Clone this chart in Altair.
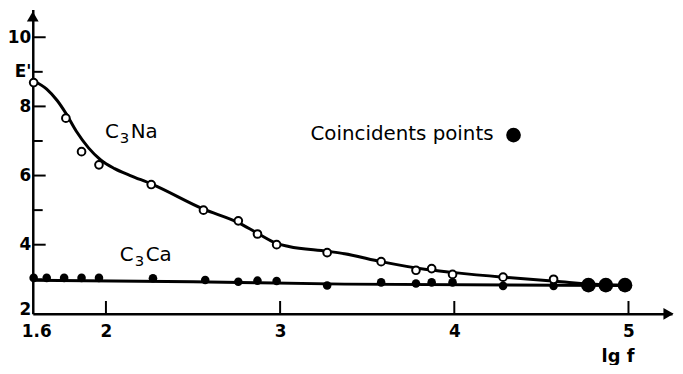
import altair as alt
import pandas as pd

# C3Na measured points (open circles)
na_x = [1.585, 1.77, 1.86, 1.96, 2.26, 2.56, 2.76, 2.87, 2.98, 3.27, 3.58, 3.78, 3.87, 3.99, 4.28, 4.57]
na_y = [8.69, 7.66, 6.69, 6.31, 5.74, 5.0, 4.69, 4.31, 4.0, 3.77, 3.51, 3.26, 3.31, 3.14, 3.06, 3.0]
# C3Na fitted curve
na_cx = [1.58, 1.66, 1.72, 1.77, 1.83, 1.9, 1.97, 2.05, 2.14, 2.26, 2.56, 2.76, 2.87, 2.98, 3.05, 3.27, 3.37, 3.58, 3.83, 3.99, 4.28, 4.58, 4.87, 4.99]
na_cy = [8.75, 8.5, 8.17, 7.8, 7.28, 6.8, 6.45, 6.2, 6.0, 5.76, 5.03, 4.64, 4.33, 4.04, 3.95, 3.81, 3.74, 3.51, 3.29, 3.2, 3.06, 2.94, 2.84, 2.83]
# C3Ca measured points (filled dots)
ca_x = [1.585, 1.66, 1.76, 1.86, 1.96, 2.27, 2.57, 2.76, 2.87, 2.98, 3.27, 3.58, 3.78, 3.87, 3.99, 4.28, 4.57]
ca_y = [3.04, 3.04, 3.04, 3.04, 3.04, 3.03, 2.98, 2.93, 2.96, 2.95, 2.82, 2.91, 2.88, 2.91, 2.91, 2.81, 2.81]
# C3Ca fitted line
ca_cx = [1.58, 2.5, 3.37, 5.0]
ca_cy = [2.97, 2.93, 2.86, 2.82]
# coincident points
co_x = [4.77, 4.87, 4.98]
co_y = [2.83, 2.83, 2.83]

x_labels = [1.6, 2, 3, 4, 5]
y_labels = [2, 4, 6, 8, 9, 10]
x_ticks = [2, 3, 4, 5]
y_major = [4, 6, 8, 10]
y_minor = [3, 5, 7, 9]

# series labels: "C" + subscript "3" + rest
series_lx = [1.994, 2.08]
series_ly = [7.26, 3.69]
series_rest = ["Na", "Ca"]

W, H = 645, 307
FONT = "DejaVu Sans"

xs = alt.Scale(domain=[1.58, 5.25], nice=False, zero=False)
ys = alt.Scale(domain=[2, 10.8], nice=False, zero=False)

x_axis = alt.Axis(
    values=x_labels, ticks=False, grid=False, domainColor="black", domainWidth=2.5,
    labelFont=FONT, labelFontSize=17, labelFontWeight="bold", labelColor="black",
    labelPadding=10, labelFlush=False, labelOverlap=False, labelBound=False,
    labelExpr="datum.value == 1.6 ? '1.6' : format(datum.value, 'd')",
    title="lg f", titleFont=FONT, titleFontSize=18, titleFontWeight="bold", titleColor="black",
    titleX=590, titleY=43, titleAlign="center", titleBaseline="middle")
y_axis = alt.Axis(
    values=y_labels, ticks=False, grid=False, domainColor="black", domainWidth=2.5,
    labelFont=FONT, labelFontSize=17, labelFontWeight="bold", labelColor="black",
    labelPadding=2, labelOverlap=False, labelBound=False, labelFlush=False,
    labelOffset={"condition": {"test": "datum.value == 2", "value": -4}, "value": 0},
    labelExpr="datum.value == 9 ? \"E'\" : datum.label", title=None)


def X():
    return alt.X("x:Q", scale=xs, axis=x_axis)


def Y():
    return alt.Y("y:Q", scale=ys, axis=y_axis)


na_pts = pd.DataFrame({"x": na_x, "y": na_y})
na_curve = pd.DataFrame({"x": na_cx, "y": na_cy})
ca_pts = pd.DataFrame({"x": ca_x, "y": ca_y})
ca_curve = pd.DataFrame({"x": ca_cx, "y": ca_cy})
co = pd.DataFrame({"x": co_x, "y": co_y})

yt_major = alt.Chart(pd.DataFrame({"y": y_major})).mark_rule(color="black", strokeWidth=2).encode(
    x=alt.value(0), x2=alt.value(13), y=Y())
yt_minor = alt.Chart(pd.DataFrame({"y": y_minor})).mark_rule(color="black", strokeWidth=2).encode(
    x=alt.value(0), x2=alt.value(10), y=Y())
xt = alt.Chart(pd.DataFrame({"x": x_ticks})).mark_rule(color="black", strokeWidth=2).encode(
    x=X(), y=alt.value(H), y2=alt.value(H - 13))

arrow_up = alt.Chart(pd.DataFrame({"x": [1.58], "y": [10.6]})).mark_point(
    shape="triangle-up", filled=True, color="black", size=140, opacity=1).encode(x=X(), y=Y())
arrow_right = alt.Chart(pd.DataFrame({"x": [5.23], "y": [2.0]})).mark_point(
    shape="triangle-right", filled=True, color="black", size=140, opacity=1).encode(x=X(), y=Y())

na_line = alt.Chart(na_curve).mark_line(color="black", strokeWidth=3, interpolate="monotone").encode(x=X(), y=Y())
ca_line = alt.Chart(ca_curve).mark_line(color="black", strokeWidth=3, interpolate="monotone").encode(x=X(), y=Y())

ca_dots = alt.Chart(ca_pts).mark_point(filled=True, color="black", size=75, opacity=1).encode(x=X(), y=Y())
na_dots = alt.Chart(na_pts).mark_point(filled=True, fill="white", stroke="black", strokeWidth=2,
                                         size=60, opacity=1).encode(x=X(), y=Y())
co_dots = alt.Chart(co).mark_point(filled=True, color="black", size=220, opacity=1).encode(x=X(), y=Y())

ser = pd.DataFrame({"x": series_lx, "y": series_ly, "rest": series_rest, "c": ["C", "C"], "s": ["3", "3"]})
lab_c1 = alt.Chart(ser).mark_text(font=FONT, fontSize=20, color="black", align="left",
                                  baseline="middle").encode(x=X(), y=Y(), text="c:N")
lab_c2 = alt.Chart(ser).mark_text(font=FONT, fontSize=15, color="black", align="left",
                                  baseline="middle", dx=15, dy=6).encode(x=X(), y=Y(), text="s:N")
lab_c3 = alt.Chart(ser).mark_text(font=FONT, fontSize=20, color="black", align="left",
                                  baseline="middle", dx=26).encode(x=X(), y=Y(), text="rest:N")

labels_r = pd.DataFrame({"x": [4.225], "y": [7.2], "t": ["Coincidents points"]})
lab_r = alt.Chart(labels_r).mark_text(font=FONT, fontSize=20, color="black",
                                      align="right", baseline="middle").encode(x=X(), y=Y(), text="t:N")
legend_dot = alt.Chart(pd.DataFrame({"x": [4.34], "y": [7.17]})).mark_point(
    filled=True, color="black", size=220, opacity=1).encode(x=X(), y=Y())

chart = alt.layer(
    yt_major, yt_minor, xt, arrow_up, arrow_right,
    ca_line, na_line, ca_dots, na_dots, co_dots, lab_c1, lab_c2, lab_c3, lab_r, legend_dot,
).properties(
    width=W, height=H,
    autosize=alt.AutoSizeParams(type="none"),
    padding={"left": 25, "top": 0, "right": 3, "bottom": 50},
    background="white",
).configure_view(strokeWidth=0)

chart.save("out.html", embed_options={"renderer": "svg", "actions": False})
